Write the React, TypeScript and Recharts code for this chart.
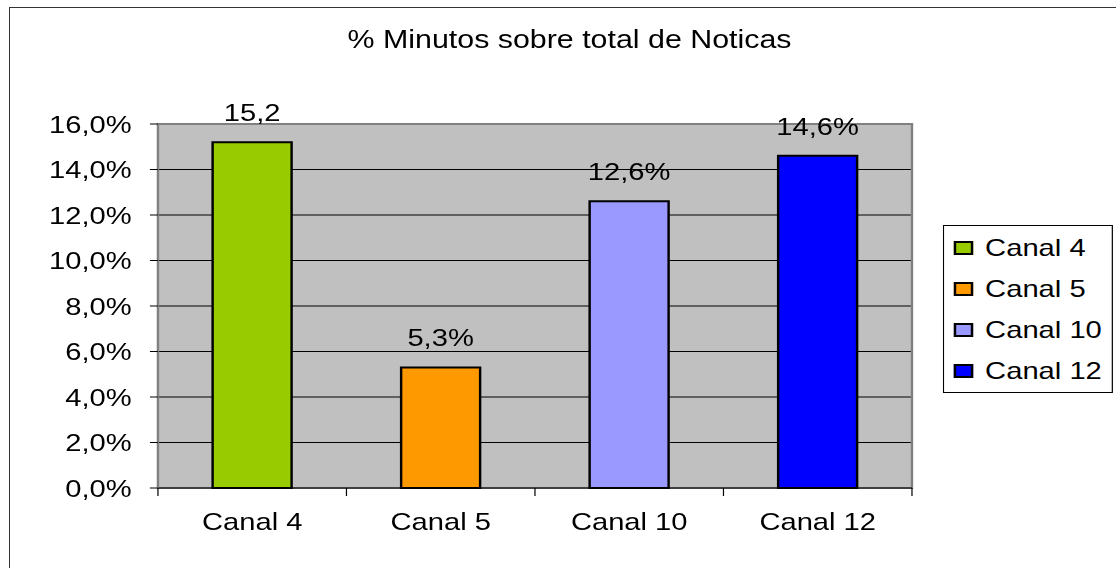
import React from "react";
import { BarChart, Bar, XAxis, YAxis, CartesianGrid, ReferenceArea, LabelList, Cell } from "recharts";

const canales = ["Canal 4", "Canal 5", "Canal 10", "Canal 12"];
const porcentajes = [15.2, 5.3, 12.6, 14.6];
const etiquetas = ["15,2", "5,3%", "12,6%", "14,6%"];
const colores = ["#99CC00", "#FF9900", "#9999FF", "#0000FF"];
const yTicks = [0, 2, 4, 6, 8, 10, 12, 14, 16];

const titulo = "% Minutos sobre total de Noticas";

// the original is stretched sideways, so the chart is drawn narrow and scaled in x
const STRETCH = 1.215;
const W = 918;
const H = 568;
const PLOT_LEFT = 130;
const PLOT_RIGHT = 750.6;
const BAND = (PLOT_RIGHT - PLOT_LEFT) / canales.length;
const FONT = "'Liberation Sans', Arial, sans-serif";

const data = canales.map((name, i) => ({ name, value: porcentajes[i], label: etiquetas[i] }));

const fmtPct = (v: number) => v.toFixed(1).replace(".", ",") + "%";

function CanalTick({ x, y, payload, index }: any) {
    const half = BAND / 2;
    return (
        <g>
            <line x1={x - half} x2={x - half} y1={y} y2={y + 8} stroke="#000" />
            {index === canales.length - 1 && (
                <line x1={x + half} x2={x + half} y1={y} y2={y + 8} stroke="#000" />
            )}
            <text x={x} y={y + 42} textAnchor="middle" fontSize={24} fill="#000" fontFamily={FONT}>
                {payload.value}
            </text>
        </g>
    );
}

function Leyenda() {
    return (
        <div
            style={{
                position: "absolute",
                left: 776.4,
                top: 225,
                width: 140,
                height: 168,
                boxSizing: "border-box",
                border: "1px solid #000",
                background: "#fff",
                paddingTop: 1,
            }}
        >
            {canales.map((c, i) => (
                <div key={c} style={{ display: "flex", alignItems: "center", height: 41 }}>
                    <span
                        style={{
                            display: "inline-block",
                            width: 15.4,
                            height: 14,
                            marginLeft: 8,
                            boxSizing: "border-box",
                            border: "2px solid #000",
                            background: colores[i],
                        }}
                    />
                    <span style={{ marginLeft: 10, fontSize: 24, lineHeight: "24px", color: "#000" }}>{c}</span>
                </div>
            ))}
        </div>
    );
}

export default function App() {
    return (
        <div style={{ position: "relative", width: 1116, height: 568, overflow: "hidden", background: "#fff", fontFamily: FONT }}>
            <style>{`body{margin:0}`}</style>
            {/* outer chart frame, only top and left edges are inside the picture */}
            <div
                style={{
                    position: "absolute",
                    left: 9,
                    top: 7,
                    width: 1200,
                    height: 700,
                    borderTop: "1px solid #333",
                    borderLeft: "1px solid #333",
                }}
            />
            <div
                style={{
                    position: "absolute",
                    left: 0,
                    top: 0,
                    width: W,
                    height: H,
                    transform: `scaleX(${STRETCH})`,
                    transformOrigin: "0 0",
                }}
            >
                <div
                    style={{
                        position: "absolute",
                        left: 0,
                        top: 27,
                        width: 937.5,
                        textAlign: "center",
                        fontSize: 25,
                        lineHeight: "25px",
                        color: "#000",
                    }}
                >
                    {titulo}
                </div>
                <BarChart
                    width={W}
                    height={H}
                    data={data}
                    margin={{ top: 124, right: W - PLOT_RIGHT, bottom: 0, left: 0 }}
                    style={{ position: "absolute", left: 0, top: 0 }}
                >
                    <CartesianGrid
                        vertical={false}
                        horizontalValues={yTicks.slice(1, -1)}
                        stroke="#000"
                        fill="#C0C0C0"
                        fillOpacity={1}
                    />
                    <ReferenceArea y1={0} y2={16} fill="none" stroke="#808080" strokeWidth={2} />
                    <XAxis
                        dataKey="name"
                        height={80}
                        axisLine={{ stroke: "#000" }}
                        tickLine={false}
                        tickSize={0}
                        tickMargin={0}
                        interval={0}
                        tick={<CanalTick />}
                    />
                    <YAxis
                        width={PLOT_LEFT}
                        domain={[0, 16]}
                        ticks={yTicks}
                        interval={0}
                        tickFormatter={fmtPct}
                        axisLine={{ stroke: "#808080" }}
                        tickLine={{ stroke: "#000" }}
                        tickSize={6.6}
                        tickMargin={15}
                        tick={{ fill: "#000", fontSize: 24, fontFamily: FONT }}
                    />
                    <Bar dataKey="value" barSize={65} stroke="#000" strokeWidth={2} isAnimationActive={false}>
                        {data.map((d, i) => (
                            <Cell key={d.name} fill={colores[i]} />
                        ))}
                        <LabelList dataKey="label" position="top" offset={21} fill="#000" fontSize={24} fontFamily={FONT} />
                    </Bar>
                </BarChart>
                <Leyenda />
            </div>
        </div>
    );
}
